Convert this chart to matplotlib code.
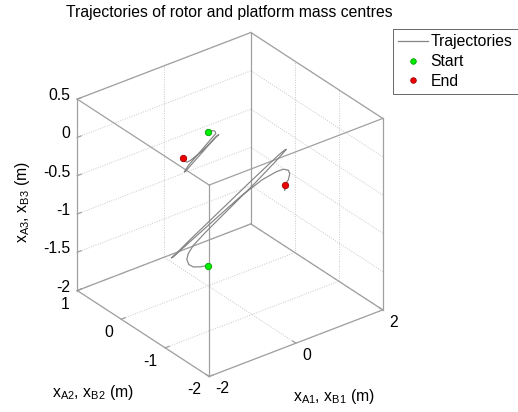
import itertools
import matplotlib
matplotlib.use('Agg')
import matplotlib.pyplot as plt
from matplotlib.lines import Line2D
from mpl_toolkits.mplot3d import proj3d

plt.rcParams['font.family'] = ['Liberation Sans', 'DejaVu Sans']
plt.rcParams['mathtext.fontset'] = 'custom'
plt.rcParams['mathtext.rm'] = 'Liberation Sans'
plt.rcParams['mathtext.it'] = 'Liberation Sans:italic'
plt.rcParams['mathtext.default'] = 'regular'

# ---------------- data ----------------
# rotor mass centre (A)
rotor_x = [0.000, 0.076, 0.157, 0.180, 0.099, -0.178, -0.454, -0.547, -0.512,
           -0.178, 0.168, 0.249, 0.215, -0.108, -0.408, -0.484, -0.563, -0.586]
rotor_y = [0.0] * 18
rotor_z = [0.012, 0.012, -0.012, -0.050, -0.084, -0.207, -0.329, -0.393, -0.388,
           -0.246, -0.099, -0.078, -0.084, -0.202, -0.274, -0.279, -0.246, -0.199]

# platform mass centre (B)
platform_x = [0.000, -0.178, -0.339, -0.443, -0.489, -0.454, -0.339, -0.062, 0.514,
              1.091, 1.552, 1.737, 1.806, 1.760, 1.622, 0.976, 0.284, -0.408,
              -0.754, -0.847, -0.800, -0.639, 0.053, 0.745, 1.253, 1.576, 1.737,
              1.852, 1.882, 1.852, 1.767, 1.767, 1.767]
platform_y = [0.0] * 33
platform_z = [-1.734, -1.712, -1.679, -1.624, -1.548, -1.478, -1.398, -1.289, -1.089,
              -0.889, -0.715, -0.638, -0.608, -0.611, -0.646, -0.851, -1.078, -1.305,
              -1.425, -1.451, -1.448, -1.398, -1.197, -0.996, -0.885, -0.851, -0.854,
              -0.892, -0.944, -1.016, -1.063, -1.134, -1.070]

x_limits = [-2, 2]
y_limits = [-2, 1]
z_limits = [-2, 0.5]
x_ticks = [-2, 0, 2]
y_ticks = [-2, -1, 0, 1]
z_ticks = [-2, -1.5, -1, -0.5, 0, 0.5]
x_tick_labels = ['-2', '0', '2']
y_tick_labels = ['-2', '-1', '0', '1']
z_tick_labels = ['-2', '-1.5', '-1', '-0.5', '0', '0.5']

title = 'Trajectories of rotor and platform mass centres'
x_label = r'x$_{A1}$, x$_{B1}$ (m)'
y_label = r'x$_{A2}$, x$_{B2}$ (m)'
z_label = r'x$_{A3}$, x$_{B3}$ (m)'

# ---------------- figure ----------------
W, H = 518, 412
FS = 11.3
fig = plt.figure(figsize=(W / 100, H / 100), dpi=100)
side = 368
cx, cy = 230, 207.5
ax = fig.add_axes([(cx - 0.5135 * side) / W, (cy - 0.5135 * side) / H, side / W, side / H],
                  projection='3d', proj_type='ortho')
ax.view_init(elev=30, azim=-127.5)
ax.set_box_aspect((1, 0.99, 1.01), zoom=1.0)
ax.set_xlim(*x_limits)
ax.set_ylim(*y_limits)
ax.set_zlim(*z_limits)
ax.set_axis_off()
ax.computed_zorder = False

box_col = '#a0a0a0'
grid_col = '#c8c8c8'
line_col = '#858585'

# box edges
x0, x1 = x_limits
y0, y1 = y_limits
z0, z1 = z_limits
corners = list(itertools.product([x0, x1], [y0, y1], [z0, z1]))
for a, b in itertools.combinations(corners, 2):
    if sum(p != q for p, q in zip(a, b)) == 1:
        ax.plot([a[0], b[0]], [a[1], b[1]], [a[2], b[2]], color=box_col, lw=0.9, zorder=2)

# grids on back planes (z=z0 floor, x=x1, y=y1)
gkw = dict(color=grid_col, lw=0.7, ls=(0, (1, 1.5)), zorder=1)
for xv in x_ticks:
    ax.plot([xv, xv], [y0, y1], [z0, z0], **gkw)
    ax.plot([xv, xv], [y1, y1], [z0, z1], **gkw)
for yv in y_ticks:
    ax.plot([x0, x1], [yv, yv], [z0, z0], **gkw)
    ax.plot([x1, x1], [yv, yv], [z0, z1], **gkw)
for zv in z_ticks:
    ax.plot([x1, x1], [y0, y1], [zv, zv], **gkw)
    ax.plot([x0, x1], [y1, y1], [zv, zv], **gkw)

# tick marks
for xv in x_ticks:
    ax.plot([xv, xv], [y0, y0 + 0.075], [z0, z0], color=box_col, lw=0.9, zorder=2)
for yv in y_ticks:
    ax.plot([x0, x0 + 0.09], [yv, yv], [z0, z0], color=box_col, lw=0.9, zorder=2)
for zv in z_ticks:
    ax.plot([x0, x0 + 0.09], [y1, y1], [zv, zv], color=box_col, lw=0.9, zorder=2)

# trajectories
ax.plot(rotor_x, rotor_y, rotor_z, color=line_col, lw=0.85, zorder=3)
ax.plot(platform_x, platform_y, platform_z, color=line_col, lw=0.85, zorder=3)
mk = dict(ls='none', marker='o', ms=4.6, mew=0.6, zorder=4)
ax.plot([rotor_x[0], platform_x[0]], [rotor_y[0], platform_y[0]], [rotor_z[0], platform_z[0]],
        mfc='#00ee00', mec='#00a000', **mk)
ax.plot([rotor_x[-1], platform_x[-1]], [rotor_y[-1], platform_y[-1]], [rotor_z[-1], platform_z[-1]],
        mfc='#ee0000', mec='#a00000', **mk)

# tick labels via projection
M = ax.get_proj()


def p2d(x, y, z):
    xs, ys, _ = proj3d.proj_transform(x, y, z, M)
    return float(xs), float(ys)


for xv, lab in zip(x_ticks, x_tick_labels):
    ax.annotate(lab, p2d(xv, y0, z0), xytext=(6.5, -12.5), textcoords='offset pixels',
                ha='left', va='center', fontsize=FS, annotation_clip=False)
for yv, lab in zip(y_ticks, y_tick_labels):
    ax.annotate(lab, p2d(x0, yv, z0), xytext=(-8, -13.5), textcoords='offset pixels',
                ha='right', va='center', fontsize=FS, annotation_clip=False)
for zv, lab in zip(z_ticks, z_tick_labels):
    ax.annotate(lab, p2d(x0, y1, zv), xytext=(-7, 3.5), textcoords='offset pixels',
                ha='right', va='center', fontsize=FS, annotation_clip=False)

# axis labels and title
fig.text(334 / W, 1 - 396 / H, x_label, ha='center', va='center', fontsize=FS)
fig.text(92.5 / W, 1 - 393 / H, y_label, ha='center', va='center', fontsize=FS)
fig.text(22 / W, 1 - 202 / H, z_label, ha='center', va='center', fontsize=FS, rotation=90)
fig.text(229 / W, 1 - 13 / H, title, ha='center', va='center', fontsize=FS)

# legend
handles = [Line2D([], [], color=line_col, lw=0.9),
           Line2D([], [], ls='none', marker='o', ms=4.0, mfc='#00ee00', mec='#00a000', mew=0.6),
           Line2D([], [], ls='none', marker='o', ms=4.0, mfc='#ee0000', mec='#a00000', mew=0.6)]
leg = fig.legend(handles, ['Trajectories', 'Start', 'End'], loc='upper left',
                 bbox_to_anchor=(393 / W, 1 - 29 / H), bbox_transform=fig.transFigure,
                 fontsize=FS, frameon=True, fancybox=False, borderaxespad=0,
                 handlelength=1.9, handletextpad=0.15, labelspacing=0.3, borderpad=0.35)
leg.get_frame().set_edgecolor('#404040')
leg.get_frame().set_linewidth(0.7)

fig.savefig('out.png', dpi=100)
